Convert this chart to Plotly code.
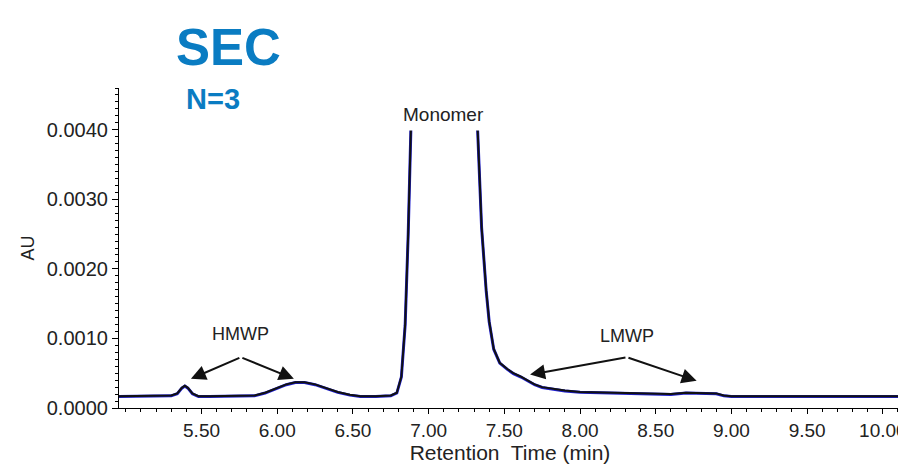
import plotly.graph_objects as go

# Retention time (min)
time_min = [4.95, 5.0, 5.1, 5.2, 5.3, 5.34, 5.37, 5.39, 5.41, 5.44, 5.48, 5.55, 5.65, 5.75,
            5.85, 5.92, 6.0, 6.06, 6.12, 6.18, 6.25, 6.32, 6.4, 6.48, 6.55, 6.65, 6.75, 6.79,
            6.82, 6.845, 6.865, 6.885, 6.92, 6.97, 7.03, 7.1, 7.17, 7.23, 7.28, 7.32, 7.35,
            7.38, 7.40, 7.43, 7.47, 7.52, 7.56, 7.61, 7.66, 7.70, 7.75, 7.80, 7.9, 8.0, 8.15,
            8.3, 8.45, 8.6, 8.7, 8.8, 8.9, 8.95, 9.0, 9.2, 9.5, 9.8, 10.12]

# Replicate 3 (black, drawn on top)
au_rep3 = [0.00017, 0.00017, 0.00017, 0.00017, 0.00018, 0.00021, 0.00029, 0.00032, 0.00029,
           0.00021, 0.00017, 0.00017, 0.00017, 0.00017, 0.00018, 0.00022, 0.00029, 0.00034,
           0.00037, 0.00037, 0.00034, 0.00029, 0.00023, 0.00019, 0.00017, 0.00017, 0.00018,
           0.00022, 0.00045, 0.0012, 0.0025, 0.0042, 0.0085, 0.016, 0.024, 0.028, 0.025,
           0.017, 0.0085, 0.0042, 0.0026, 0.0017, 0.00125, 0.00085, 0.00065, 0.00056, 0.00050,
           0.00045, 0.00039, 0.00034, 0.00030, 0.00028, 0.00025, 0.00023, 0.00022, 0.00021,
           0.00021, 0.00020, 0.00022, 0.00022, 0.00021, 0.00018, 0.00017, 0.00017, 0.00017,
           0.00017, 0.00017]

# Replicate 2 (blue, underneath)
au_rep2 = [0.000165, 0.000165, 0.000165, 0.000165, 0.000175, 0.000205, 0.000285, 0.000315, 0.000285,
           0.000205, 0.000165, 0.000165, 0.000165, 0.000165, 0.000175, 0.000215, 0.000285, 0.000335,
           0.000365, 0.000365, 0.000335, 0.000285, 0.000225, 0.000185, 0.000165, 0.000165, 0.000175,
           0.000215, 0.000445, 0.00119, 0.00249, 0.00419, 0.00849, 0.016, 0.024, 0.028, 0.025,
           0.017, 0.00849, 0.00419, 0.00259, 0.00169, 0.00124, 0.000845, 0.000645, 0.000555, 0.000495,
           0.000445, 0.000385, 0.000335, 0.000295, 0.000275, 0.000245, 0.000225, 0.000215, 0.000205,
           0.000205, 0.000195, 0.000215, 0.000215, 0.000205, 0.000175, 0.000165, 0.000165, 0.000165,
           0.000165, 0.000165]

x_ticks = [5.5, 6.0, 6.5, 7.0, 7.5, 8.0, 8.5, 9.0, 9.5, 10.0]
y_ticks = [0.0, 0.001, 0.002, 0.003, 0.004]

BLUE_TITLE = "#0A7CC2"
FONT = "Liberation Sans, Arial, sans-serif"

fig = go.Figure()
fig.add_trace(go.Scatter(x=time_min, y=au_rep2, mode="lines",
                         line=dict(color="#1f1fd0", width=3), hoverinfo="skip"))
fig.add_trace(go.Scatter(x=time_min, y=au_rep3, mode="lines",
                         line=dict(color="#111111", width=2)))

# page body has an 8px margin, so the figure is 8px smaller and margins shifted
fig.update_layout(
    width=898, height=456,
    margin=dict(l=111, r=0, t=80, b=51),
    paper_bgcolor="white", plot_bgcolor="white",
    showlegend=False,
    font=dict(family=FONT, color="#222222"),
    xaxis=dict(
        range=[4.955, 10.12], tickvals=x_ticks, ticktext=[f"{v:.2f}" for v in x_ticks],
        showgrid=False, zeroline=False, showline=True, linecolor="black", linewidth=1.2,
        ticks="outside", ticklen=5, tickcolor="black", tickwidth=1,
        tickfont=dict(size=19, color="#222222"), ticklabeloverflow="allow",
        minor=dict(dtick=0.1, ticks="outside", ticklen=3, tickcolor="black", showgrid=False),
        title=dict(text="Retention  Time (min)", font=dict(size=21), standoff=8),
    ),
    yaxis=dict(
        range=[0.0, 0.0046], tickvals=y_ticks, ticktext=[f"{v:.4f}" for v in y_ticks],
        showgrid=False, zeroline=False, showline=True, linecolor="black", linewidth=1.2,
        ticks="outside", ticklen=6, tickcolor="black", tickwidth=1,
        tickfont=dict(size=20, color="#222222"),
        minor=dict(dtick=0.0001, ticks="outside", ticklen=3, tickcolor="black", showgrid=False),
        title=dict(text="AU", font=dict(size=18), standoff=7),
    ),
    shapes=[dict(type="rect", xref="x", yref="paper", x0=6.84, x1=7.36,
                 y0=(405 - 130) / 317, y1=1.0, fillcolor="white", line=dict(width=0),
                 layer="above")],
)

annotations = [
    dict(text="<b>SEC</b>", xref="paper", yref="paper", x=(229 - 119) / 787, y=(405 - 48) / 317,
         xanchor="center", yanchor="middle",
         showarrow=False, font=dict(size=51, color=BLUE_TITLE, family=FONT)),
    dict(text="<b>N=3</b>", xref="paper", yref="paper", x=(214 - 119) / 787, y=(405 - 99) / 317,
         xanchor="center", yanchor="middle",
         showarrow=False, font=dict(size=29, color=BLUE_TITLE, family=FONT)),
    dict(text="Monomer", x=7.1, y=(405 - 114) / 68.9 * 0.001, xref="x", yref="y",
         showarrow=False, font=dict(size=19, color="#222222")),
    dict(text="HMWP", x=5.76, y=0.00106, xref="x", yref="y", showarrow=False,
         font=dict(size=18, color="#222222")),
    dict(text="LMWP", x=8.31, y=0.00104, xref="x", yref="y", showarrow=False,
         font=dict(size=18, color="#222222")),
]
arrows = [((5.43, 0.00042), (5.76, 0.00073)), ((6.11, 0.00042), (5.76, 0.00073)),
          ((7.67, 0.00048), (8.31, 0.00073)), ((8.77, 0.00039), (8.31, 0.00073))]
for (tx, ty), (hx, hy) in arrows:
    annotations.append(dict(x=tx, y=ty, ax=hx, ay=hy, xref="x", yref="y", axref="x", ayref="y",
                            text="", showarrow=True, arrowhead=2, arrowsize=1.5,
                            arrowwidth=2, arrowcolor="#111111"))
fig.update_layout(annotations=annotations)

fig.write_html("out.html")
